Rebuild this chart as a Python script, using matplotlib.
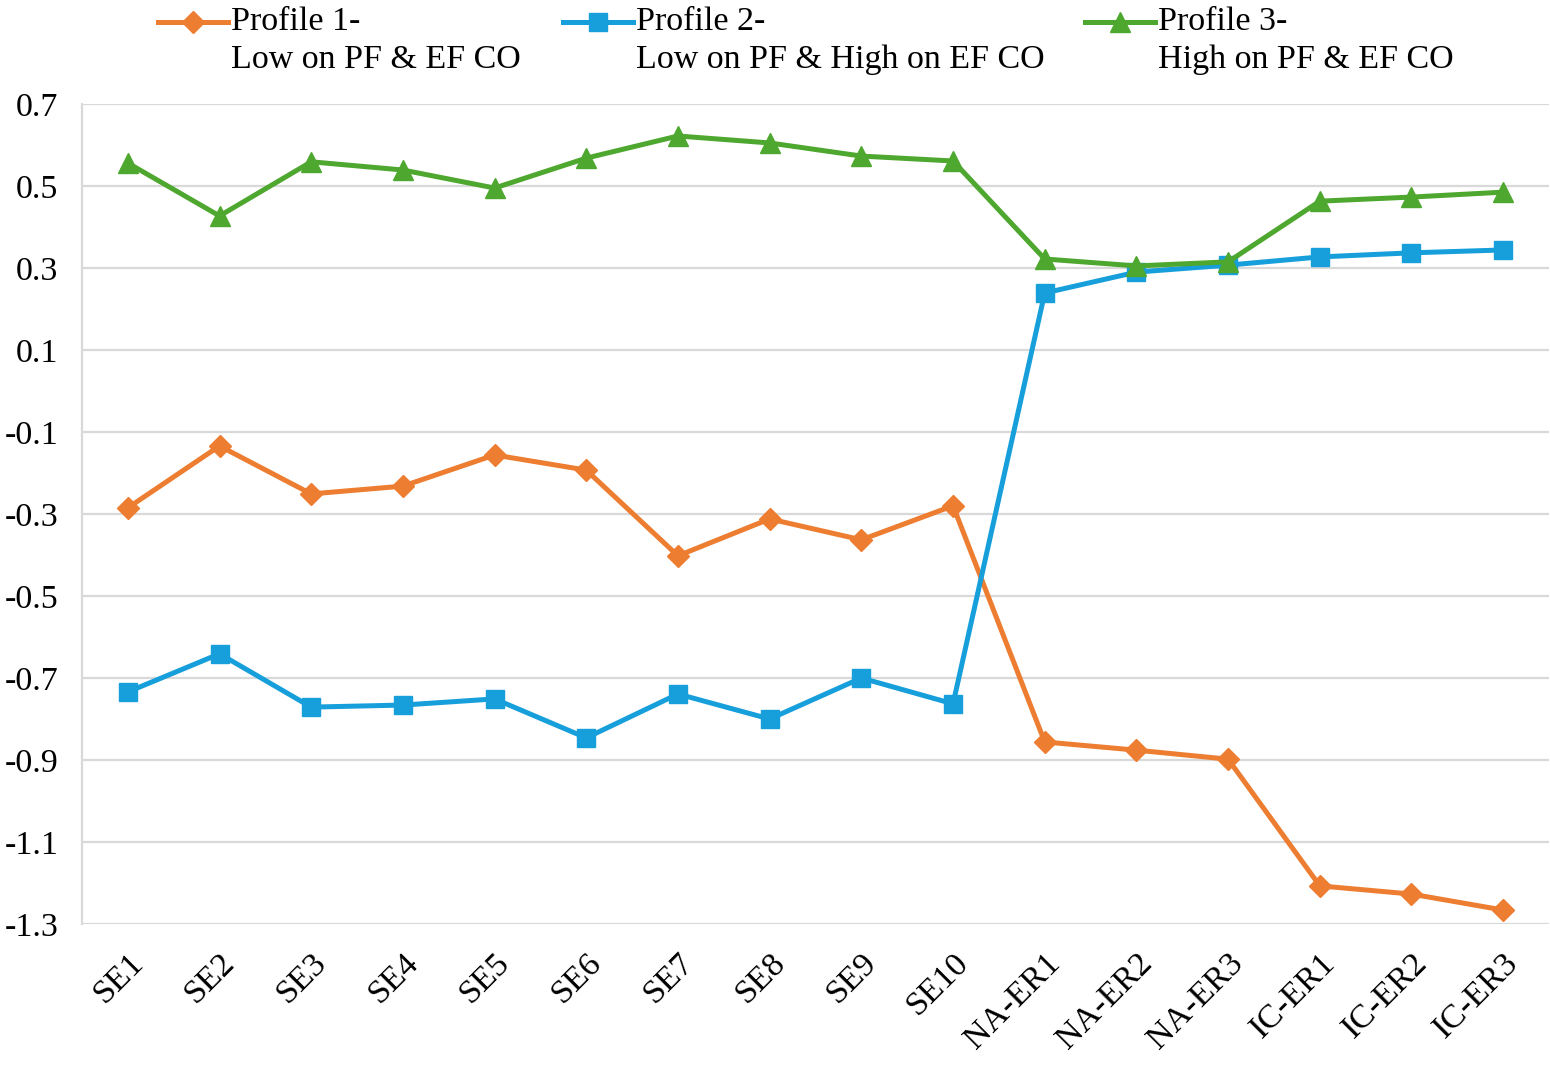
import matplotlib
matplotlib.use("Agg")
import matplotlib.pyplot as plt
from matplotlib.lines import Line2D

categories = ["SE1", "SE2", "SE3", "SE4", "SE5", "SE6", "SE7", "SE8", "SE9", "SE10",
              "NA-ER1", "NA-ER2", "NA-ER3", "IC-ER1", "IC-ER2", "IC-ER3"]
profile1 = [-0.285, -0.134, -0.251, -0.232, -0.156, -0.193, -0.402, -0.312, -0.363, -0.280,
            -0.856, -0.876, -0.898, -1.207, -1.227, -1.266]
profile2 = [-0.734, -0.641, -0.771, -0.766, -0.751, -0.846, -0.739, -0.800, -0.700, -0.763,
            0.239, 0.290, 0.307, 0.327, 0.337, 0.344]
profile3 = [0.556, 0.427, 0.559, 0.539, 0.495, 0.568, 0.622, 0.605, 0.573, 0.561,
            0.322, 0.305, 0.315, 0.463, 0.473, 0.485]
yticks = [0.7, 0.5, 0.3, 0.1, -0.1, -0.3, -0.5, -0.7, -0.9, -1.1, -1.3]
labels = ["Profile 1-\nLow on PF & EF CO", "Profile 2-\nLow on PF & High on EF CO",
          "Profile 3-\nHigh on PF & EF CO"]

plt.rcParams['font.family'] = ['Liberation Serif', 'DejaVu Serif']

W, H = 1550, 1067
fig = plt.figure(figsize=(W / 100, H / 100), dpi=100)
ax = fig.add_axes([82 / W, 1 - 924 / H, (1549 - 82) / W, (924 - 104) / H])

colors = ['#ED7D31', '#169FDA', '#4EA72E']
markers = ['D', 's', '^']
msizes = [11.5, 13.5, 15]
x = list(range(len(categories)))
for ys, c, m, ms in zip([profile1, profile2, profile3], colors, markers, msizes):
    ax.plot(x, ys, color=c, lw=3.6, marker=m, markersize=ms, markeredgecolor=c,
            markerfacecolor=c, zorder=3)

ax.set_xlim(-0.5, len(categories) - 0.5)
ax.set_ylim(-1.3, 0.7)
ax.set_yticks(yticks)
ax.set_yticklabels([f"{v:.1f}" for v in yticks])
ax.yaxis.grid(True, color='#D9D9D9', lw=1.6)
ax.set_axisbelow(True)
ax.set_xticks(x)
ax.set_xticklabels(categories, rotation=45, ha='right', rotation_mode='anchor')
ax.tick_params(axis='both', length=0, labelsize=24.5)
ax.tick_params(axis='y', pad=17)
ax.tick_params(axis='x', pad=17)
for s in ['top', 'right', 'bottom']:
    ax.spines[s].set_visible(False)
ax.spines['left'].set_color('#D9D9D9')
ax.spines['left'].set_linewidth(1.6)

# legend (manual layout)
leg_x = [158, 563, 1085]
for lx, c, m, ms, lab in zip(leg_x, colors, markers, msizes, labels):
    yy = 1 - 22 / H
    fig.add_artist(Line2D([lx / W, (lx + 70) / W], [yy, yy], color=c, lw=3.6,
                          transform=fig.transFigure))
    fig.add_artist(Line2D([(lx + 35) / W], [yy], color=c, marker=m, markersize=ms,
                          markeredgecolor=c, transform=fig.transFigure))
    fig.text((lx + 73) / W, 1 - 7 / H, lab, ha='left', va='top', fontsize=24.5,
             linespacing=1.28)

fig.savefig("out.png", dpi=100)
